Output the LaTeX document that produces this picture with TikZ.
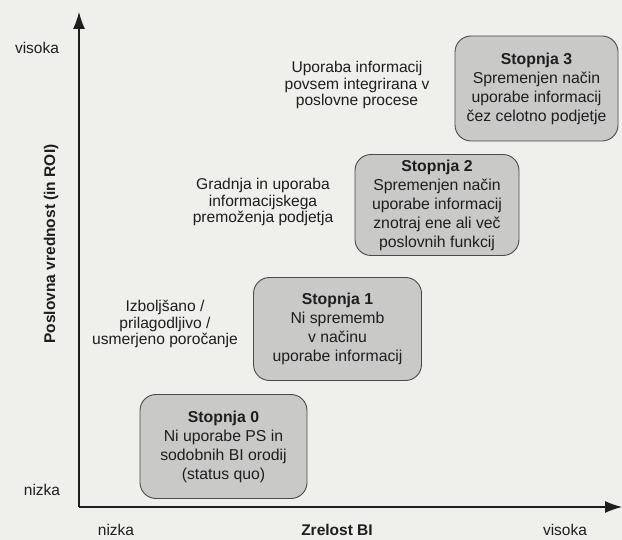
\documentclass[tikz,border=0pt]{standalone}
\usepackage{fontspec}
\setmainfont{Liberation Sans}
\usetikzlibrary{arrows.meta}
\definecolor{bgc}{HTML}{EFEFEC}
\definecolor{boxc}{HTML}{C9C9C8}
\definecolor{edgec}{HTML}{4A4A4A}
\definecolor{txtc}{HTML}{1E1E1E}
\tikzset{
  stagebox/.style={draw=edgec, line width=0.9pt, fill=boxc, rounded corners=16pt,
    align=center, inner sep=0pt, text=txtc,
    font=\fontsize{15.8}{19}\selectfont},
  plaintext/.style={align=center, inner sep=0pt, text=txtc,
    font=\fontsize{15.6}{16.5}\selectfont},
  axislabel/.style={inner sep=0pt, text=txtc, font=\fontsize{15.5}{18}\selectfont},
  axisline/.style={draw=txtc, line width=1.1pt, -{Latex[length=17pt,width=12pt]}}
}
\begin{document}
\begin{tikzpicture}[x=1pt,y=-1pt]
\fill[bgc] (0,0) rectangle (622,540);
\useasboundingbox (0,0) rectangle (622,540);
% axes
\coordinate (O) at (79,507);
\coordinate (Ytip) at (79,12);
\coordinate (Xtip) at (622,507);
\draw[axisline] (O) -- (Ytip);
\draw[axisline] (O) -- (Xtip);
% axis labels
\node[axislabel] (vl) at (37,48) {visoka};
\node[axislabel] (nl) at (42,490) {nizka};
\node[axislabel] (nb) at (116,530) {nizka};
\node[axislabel, font=\fontsize{15.5}{18}\selectfont\bfseries] (zb) at (337,530) {Zrelost BI};
\node[axislabel] (vb) at (565,530) {visoka};
\node[axislabel, font=\fontsize{15.5}{18}\selectfont\bfseries, rotate=90] (yl) at (51,244) {Poslovna vrednost (in ROI)};
% stage boxes
\node[stagebox, minimum width=163pt, minimum height=105pt] (s3) at (536.5,88.5)
  {\textbf{Stopnja 3}\\Spremenjen način\\uporabe informacij\\čez celotno podjetje};
\node[stagebox, minimum width=164pt, minimum height=101pt] (s2) at (437,205)
  {\textbf{Stopnja 2}\\Spremenjen način\\uporabe informacij\\znotraj ene ali več\\poslovnih funkcij};
\node[stagebox, minimum width=168pt, minimum height=103pt] (s1) at (337.5,329)
  {\textbf{Stopnja 1}\\Ni sprememb\\v načinu\\uporabe informacij};
\node[stagebox, minimum width=167pt, minimum height=104pt] (s0) at (223.5,446.5)
  {\textbf{Stopnja 0}\\Ni uporabe PS in\\sodobnih BI orodij\\(status quo)};
% descriptions
\node[plaintext] (d3) at (357,85) {Uporaba informacij\\povsem integrirana v\\poslovne procese};
\node[plaintext] (d2) at (263,202) {Gradnja in uporaba\\informacijskega\\premoženja podjetja};
\node[plaintext] (d1) at (165,324) {Izboljšano /\\prilagodljivo /\\usmerjeno poročanje};
\end{tikzpicture}
\end{document}
